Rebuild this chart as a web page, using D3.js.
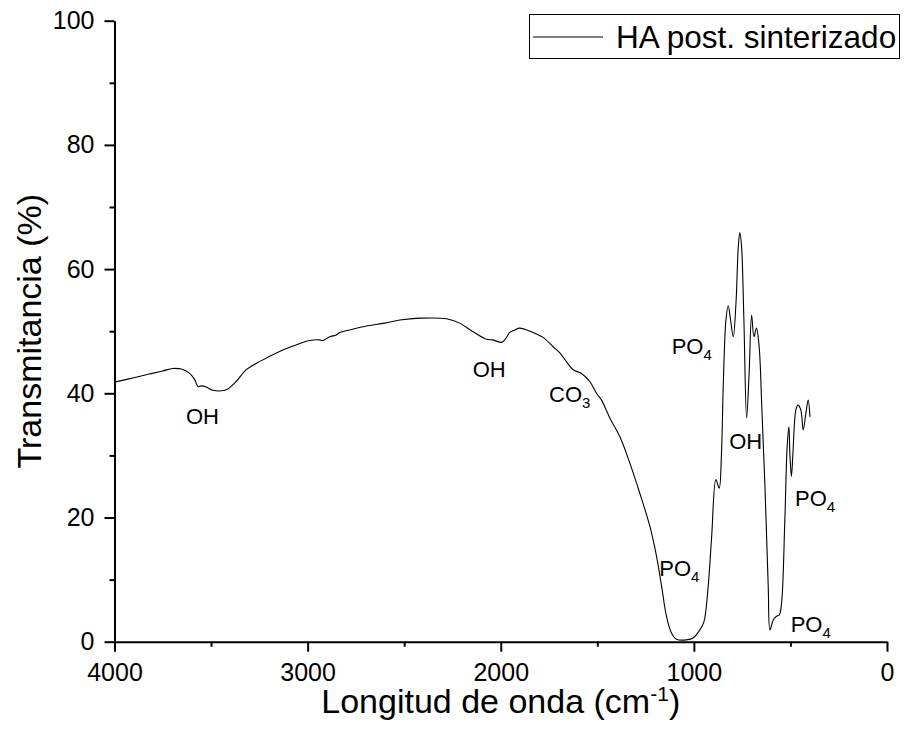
<!DOCTYPE html>
<html>
<head>
<meta charset="utf-8">
<script src="https://cdn.jsdelivr.net/npm/d3@7"></script>
<style>
  body { margin: 0; background: #fff; }
  text { font-family: "Liberation Sans", Arial, sans-serif; fill: #000; }
</style>
</head>
<body>
<svg id="chart" width="909" height="742"></svg>
<script>
// FTIR spectrum: wavenumber (cm-1) and transmittance (%)
const waveNumbers = [4000, 3900, 3820, 3750, 3698, 3654, 3611, 3585, 3568, 3551, 3525, 3491, 3447, 3413,
  3370, 3318, 3249, 3162, 3076, 2990, 2938, 2921, 2886, 2851, 2834, 2782, 2700, 2600, 2523, 2420, 2281,
  2212, 2143, 2074, 2040, 1996, 1979, 1953, 1927, 1902, 1841, 1781, 1729, 1694, 1660, 1625, 1582, 1539,
  1504, 1478, 1435, 1383, 1332, 1280, 1228, 1193, 1167, 1142, 1116, 1090, 1038, 1004, 969, 948, 926,
  908, 886, 869, 857, 848, 834, 822, 810, 796, 782, 770, 762, 753, 741, 727, 714, 701, 689, 676, 662,
  649, 632, 615, 606, 589, 572, 558, 546, 529, 517, 508, 503, 495, 487, 472, 461, 446, 434, 420, 408, 399];
const transmittance = [41.8, 42.5, 43.1, 43.6, 44.0, 43.9, 43.2, 42.2, 41.1, 41.2, 41.0, 40.5, 40.4, 40.7,
  41.9, 43.8, 45.1, 46.5, 47.6, 48.5, 48.6, 48.5, 49.1, 49.4, 49.8, 50.2, 50.8, 51.3, 51.8, 52.1, 52.0,
  51.3, 49.9, 48.7, 48.6, 48.2, 48.6, 49.8, 50.2, 50.5, 49.9, 49.0, 47.5, 46.5, 45.1, 43.8, 43.2, 41.9,
  40.0, 38.9, 36.0, 33.0, 28.8, 23.9, 18.6, 13.7, 8.9, 4.1, 1.4, 0.4, 0.3, 0.6, 1.9, 3.2, 8.9,
  16.9, 26.1, 24.7, 30.4, 41.1, 51.8, 54.1, 51.8, 49.1, 54.5, 63.6, 65.9, 63.6, 51.8, 36.0, 43.2, 52.6, 49.1, 50.5, 47.5,
  38.4, 25.0, 8.9, 1.9, 3.5, 4.1, 4.3, 6.2, 19.6, 31.4, 34.6, 30.4, 26.6, 30.4, 37.3, 38.1, 37.3, 34.1, 36.8, 38.9, 36.2];

const xMajor = [4000, 3000, 2000, 1000, 0];
const xMinor = [3500, 2500, 1500, 500];
const yMajor = [0, 20, 40, 60, 80, 100];
const yMinor = [10, 30, 50, 70, 90];

// band labels: text, subscript, wavenumber / transmittance of the text's left baseline
const bandLabels = [
  { txt: "OH", sub: "", wn: 3630, t: 35.1 },
  { txt: "OH", sub: "", wn: 2145, t: 42.7 },
  { txt: "CO", sub: "3", wn: 1750, t: 38.6 },
  { txt: "PO", sub: "4", wn: 1179, t: 10.5 },
  { txt: "PO", sub: "4", wn: 1115, t: 46.4 },
  { txt: "OH", sub: "", wn: 817, t: 31.0 },
  { txt: "PO", sub: "4", wn: 476, t: 21.8 },
  { txt: "PO", sub: "4", wn: 499, t: 1.6 }
];

const svg = d3.select("#chart");
const x = d3.scaleLinear().domain([4000, 0]).range([114.5, 887]);
const y = d3.scaleLinear().domain([0, 100]).range([641.7, 20.7]);

// spectrum
const data = waveNumbers.map((w, i) => ({ w: w, t: transmittance[i] }));
const line = d3.line()
  .x(d => x(d.w))
  .y(d => y(d.t))
  .curve(d3.curveCatmullRom.alpha(0.5));

svg.append("path")
  .datum(data)
  .attr("d", line)
  .attr("fill", "none")
  .attr("stroke", "#000")
  .attr("stroke-width", 1.1);

// axes
const xAxis = svg.append("g")
  .attr("transform", `translate(0,${y(0)})`)
  .call(d3.axisBottom(x).tickValues(xMajor).tickSize(10).tickSizeOuter(0).tickPadding(12).tickFormat(d3.format("d")));
svg.append("g")
  .attr("transform", `translate(0,${y(0)})`)
  .call(d3.axisBottom(x).tickValues(xMinor).tickSize(5).tickSizeOuter(0).tickFormat(""))
  .select(".domain").remove();

const yAxis = svg.append("g")
  .attr("transform", `translate(${x(4000)},0)`)
  .call(d3.axisLeft(y).tickValues(yMajor).tickSize(10).tickSizeOuter(0).tickPadding(10));
svg.append("g")
  .attr("transform", `translate(${x(4000)},0)`)
  .call(d3.axisLeft(y).tickValues(yMinor).tickSize(5).tickSizeOuter(0).tickFormat(""))
  .select(".domain").remove();

svg.selectAll(".domain, .tick line").attr("stroke", "#000").attr("stroke-width", 2);
xAxis.selectAll(".tick text").attr("font-size", 25).attr("font-family", "Liberation Sans, Arial, sans-serif");
yAxis.selectAll(".tick text").attr("font-size", 25).attr("font-family", "Liberation Sans, Arial, sans-serif");

// axis titles
svg.append("text")
  .attr("transform", `translate(41,${(y(0) + y(100)) / 2}) rotate(-90)`)
  .attr("text-anchor", "middle")
  .attr("font-size", 34)
  .text("Transmitancia (%)");

const xt = svg.append("text")
  .attr("x", (x(4000) + x(0)) / 2)
  .attr("y", 713)
  .attr("text-anchor", "middle")
  .attr("font-size", 34);
xt.append("tspan").text("Longitud de onda (cm");
xt.append("tspan").attr("dy", -12).attr("font-size", 21).text("-1");
xt.append("tspan").attr("dy", 12).text(")");

// band labels
bandLabels.forEach(b => {
  const t = svg.append("text")
    .attr("x", x(b.wn))
    .attr("y", y(b.t))
    .attr("font-size", 22);
  t.append("tspan").text(b.txt);
  if (b.sub) t.append("tspan").attr("dy", 6).attr("font-size", 15).text(b.sub);
});

// legend
const lg = svg.append("g");
lg.append("rect")
  .attr("x", 529.5).attr("y", 14.5)
  .attr("width", 370).attr("height", 44)
  .attr("fill", "#fff").attr("stroke", "#000").attr("stroke-width", 1);
lg.append("line")
  .attr("x1", 533).attr("x2", 603).attr("y1", 37).attr("y2", 37)
  .attr("stroke", "#000").attr("stroke-width", 1.1);
lg.append("text")
  .attr("x", 616).attr("y", 48)
  .attr("font-size", 31.5)
  .text("HA post. sinterizado");
</script>
</body>
</html>
